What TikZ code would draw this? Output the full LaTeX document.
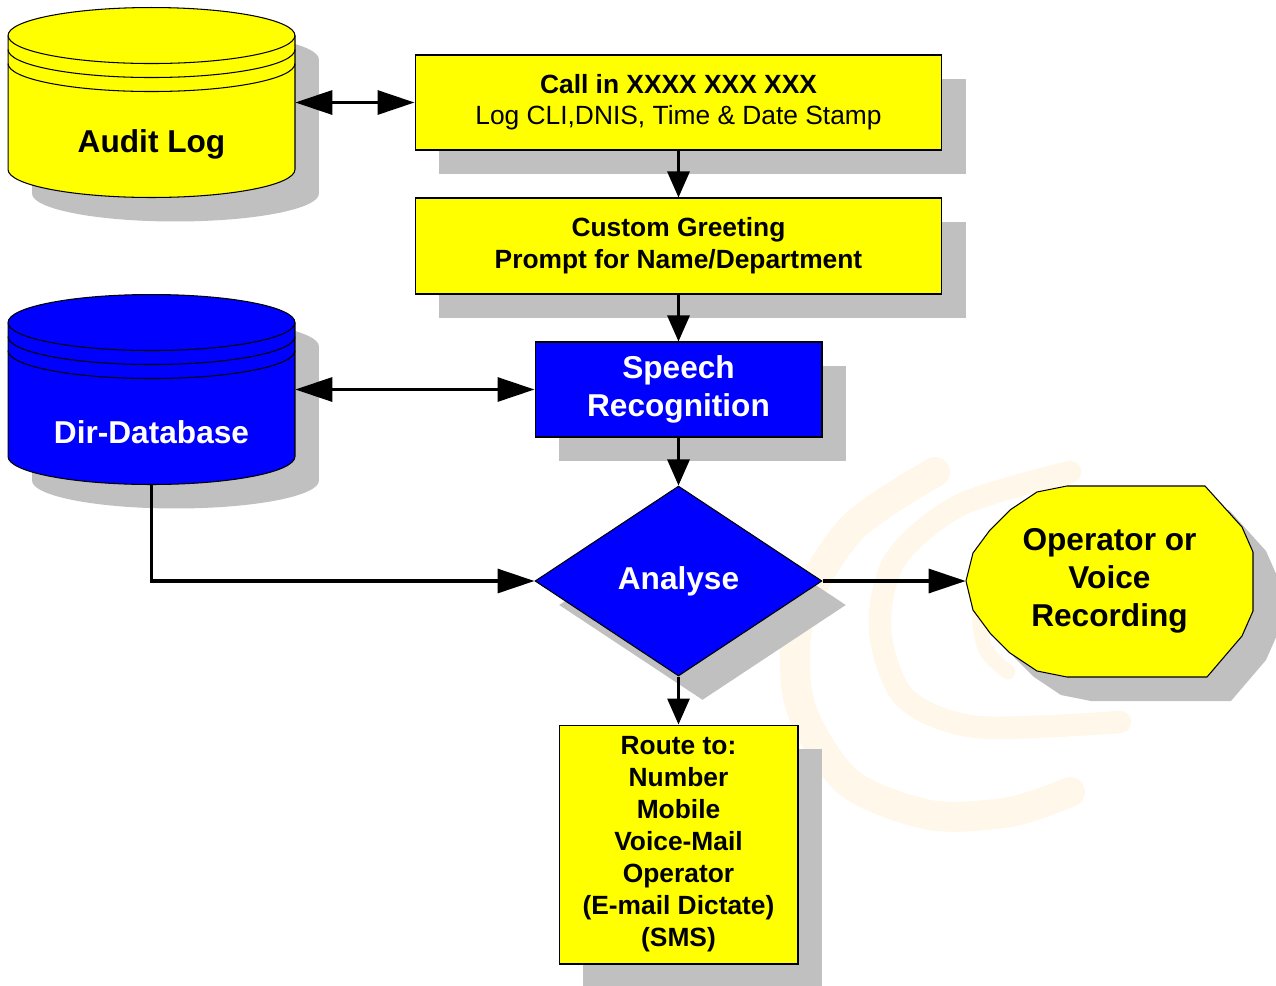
\documentclass[tikz,border=0pt]{standalone}
\usepackage{fontspec}
\setmainfont{Liberation Sans}
\usetikzlibrary{arrows.meta,shapes.geometric,shadows}
\definecolor{boxyellow}{RGB}{255,255,0}
\definecolor{boxblue}{RGB}{0,0,255}
\definecolor{shadowgray}{RGB}{192,192,192}
\definecolor{wmark}{RGB}{255,248,234}
\tikzset{>={Triangle[length=0.74cm,width=0.48cm]}}
\tikzset{
  grayshadow/.style = {drop shadow={shadow xshift=0.48cm,shadow yshift=-0.48cm,
      fill=shadowgray,opacity=1}},
  yellowbox/.style = {draw,line width=0.6pt,fill=boxyellow,grayshadow,
    align=center,inner sep=0pt,font=\fontsize{15}{18.2}\selectfont\bfseries},
  bluebox/.style = {draw,line width=0.6pt,fill=boxblue,grayshadow,text=white,
    align=center,inner sep=0pt,font=\fontsize{18}{21.6}\selectfont\bfseries},
  decision/.style = {bluebox,diamond,aspect=1.5,
    minimum width=5.74cm,minimum height=3.8cm},
  drumbody/.style = {inner sep=0pt,minimum width=5.74cm,minimum height=3.8cm},
  drumlabel/.style = {font=\fontsize{18}{21.6}\selectfont\bfseries},
  flow/.style = {line width=1.8pt},
  vflow/.style = {flow,-{Triangle[length=0.52cm,width=0.44cm]}}
}
% #1 centre, #2 fill colour
\newcommand{\drum}[2]{%
  \fill[shadowgray,shift={(24,24)}] #1 ++(-2.87cm,1.34cm) -- ++(0,-2.68cm)
    arc[start angle=180,end angle=360,x radius=2.87cm,y radius=0.56cm]
    -- ++(0,2.68cm)
    arc[start angle=0,end angle=180,x radius=2.87cm,y radius=0.56cm] -- cycle;
  \filldraw[fill=#2,line width=0.6pt] #1 ++(-2.87cm,1.34cm) -- ++(0,-2.68cm)
    arc[start angle=180,end angle=360,x radius=2.87cm,y radius=0.56cm]
    -- ++(0,2.68cm)
    arc[start angle=0,end angle=180,x radius=2.87cm,y radius=0.56cm] -- cycle;
  \foreach \dy in {1.34,1.06,0.78}
    \draw[line width=0.6pt] #1 ++(-2.87cm,\dy cm)
      arc[start angle=180,end angle=360,x radius=2.87cm,y radius=0.56cm];
}
\newcommand{\octopath}{(1067,486) -- (1205,486) -- (1242,527) -- (1253,552)
  -- (1253,611) -- (1242,636) -- (1207,677) -- (1067,677) -- (1037,671) -- (1010,653)
  -- (990,633) -- (973,610) -- (966,581) -- (973,553) -- (990,530) -- (1010,510)
  -- (1037,492) -- cycle}

\begin{document}
\begin{tikzpicture}[x=0.02cm,y=-0.02cm]
  \useasboundingbox (0,0) rectangle (1276,985);

  % faint logo behind the right part
  \draw[wmark,line width=0.6cm,line cap=round] plot[smooth] coordinates
    {(935,472) (852,528) (800,615) (800,705) (848,782) (930,815) (1010,812) (1070,792)};
  \draw[wmark,line width=0.45cm,line cap=round] plot[smooth] coordinates
    {(1070,472) (960,505) (895,560) (880,630) (905,698) (977,727) (1120,722)};
  \draw[wmark,line width=0.3cm,line cap=round] plot[smooth] coordinates
    {(1005,560) (980,600) (985,648) (1008,672)};

  % data stores
  \drum{(151.5,102.5)}{boxyellow}
  \node[drumbody] (audit) at (151.5,102.5) {};
  \node[drumlabel] (auditlbl) at (151.5,144) {Audit Log};
  \drum{(151.5,389.5)}{boxblue}
  \node[drumbody] (dir) at (151.5,389.5) {};
  \node[drumlabel,text=white] (dirlbl) at (151.5,432) {Dir-Database};

  % main column
  \node[yellowbox,minimum width=10.54cm,minimum height=1.9cm,
    font=\fontsize{15}{17.6}\selectfont] (call) at (678.5,102.5)
    {\bfseries Call in XXXX XXX XXX\\Log CLI,DNIS, Time \& Date Stamp};
  \node[yellowbox,minimum width=10.54cm,minimum height=1.92cm] (greet) at (678.5,246)
    {Custom Greeting\\Prompt for Name/Department};
  \node[bluebox,minimum width=5.74cm,minimum height=1.9cm] (speech) at (678.5,389.5)
    {Speech\\Recognition};
  \node[decision] (analyse) at (678.5,581) {Analyse};
  \node[yellowbox,minimum width=4.78cm,minimum height=4.78cm] (route) at (678.5,844.5)
    {Route to:\\Number\\Mobile\\Voice-Mail\\Operator\\(E-mail Dictate)\\(SMS)};

  % end point
  \fill[shadowgray,shift={(24,24)}] \octopath;
  \filldraw[fill=boxyellow,line width=0.6pt] \octopath;
  \node[drumlabel,align=center,minimum width=5.74cm,minimum height=3.82cm] (octo)
    at (1109.5,581) {Operator or\\Voice\\Recording};

  % connectors
  \draw[flow,<->] (audit.east) -- (call.west);
  \draw[flow,<->] (dir.east) -- (speech.west);
  \draw[vflow] (call) -- (greet);
  \draw[vflow] (greet) -- (speech);
  \draw[vflow] (speech) -- (analyse);
  \draw[vflow] (analyse) -- (route);
  \draw[flow,->] (dir.south) |- (analyse.west);
  \draw[flow,->] (analyse.east) -- (octo.west);
\end{tikzpicture}
\end{document}
